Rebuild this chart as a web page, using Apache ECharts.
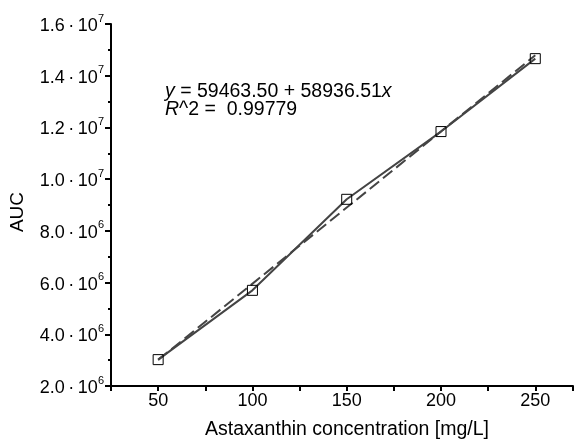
<!DOCTYPE html>
<html>
<head>
<meta charset="utf-8">
<script src="https://cdn.jsdelivr.net/npm/echarts@6/dist/echarts.min.js"></script>
<style>html,body{margin:0;padding:0;background:#fff;}#c{width:576px;height:445px;}</style>
</head>
<body>
<div id="c"></div>
<script>
var concentrations = [50, 100, 150, 200, 250];
var aucValues = [3.02e6, 5.70e6, 9.22e6, 11.84e6, 14.66e6];
var fitX = [50, 250];
var fitY = [3.01e6, 14.79e6];
var xTickLabels = [50, 100, 150, 200, 250];
var equationLine1 = ['y', ' = 59463.50 + 58936.51', 'x'];
var equationLine2 = ['R', '^2 =  0.99779'];

var FONT = '"Liberation Sans", Arial, Helvetica, sans-serif';

function yLabel(v) {
  var e = Math.floor(Math.log10(v) + 1e-9);
  var m = (v / Math.pow(10, e)).toFixed(1);
  return '{a|' + m + '\u2009\u00b7\u200910}{s|' + e + '}';
}

var chart = echarts.init(document.getElementById('c'));
chart.setOption({
  animation: false,
  backgroundColor: '#fff',
  grid: { left: 108, right: 1, top: 24, bottom: 59, containLabel: false },
  xAxis: {
    type: 'value',
    min: 25, max: 270, interval: 25,
    name: 'Astaxanthin concentration [mg/L]',
    nameLocation: 'middle',
    nameGap: 34,
    nameTextStyle: { fontFamily: FONT, fontSize: 19.5, color: '#000', padding: [0, 0, 0, 10] },
    axisLine: { show: true, lineStyle: { color: '#000', width: 2 } },
    axisTick: { show: true, inside: false, length: 5, lineStyle: { color: '#000', width: 2 } },
    axisLabel: {
      fontFamily: FONT, fontSize: 18, color: '#000', margin: 6,
      formatter: function (v) { return xTickLabels.indexOf(v) >= 0 ? String(v) : ''; }
    },
    splitLine: { show: false }
  },
  yAxis: {
    type: 'value',
    min: 2e6, max: 1.6e7, interval: 2e6,
    name: 'AUC',
    nameLocation: 'middle',
    nameGap: 84,
    nameRotate: 90,
    nameTextStyle: { fontFamily: FONT, fontSize: 19, color: '#000', padding: [0, 14, 0, 0] },
    axisLine: { show: true, lineStyle: { color: '#000', width: 2 } },
    axisTick: { show: true, length: 6, lineStyle: { color: '#000', width: 2 } },
    minorTick: { show: true, splitNumber: 2, length: 3, lineStyle: { color: '#000', width: 2 } },
    axisLabel: {
      margin: 7,
      formatter: yLabel,
      rich: {
        a: { fontFamily: FONT, fontSize: 18, color: '#000', lineHeight: 22, verticalAlign: 'bottom' },
        s: { fontFamily: FONT, fontSize: 11, color: '#000', lineHeight: 22, verticalAlign: 'top', padding: [0, 0, 10, 0] }
      }
    },
    splitLine: { show: false }
  },
  graphic: [
    {
      type: 'text', left: 165, top: 82,
      style: {
        text: '{i|' + equationLine1[0] + '}{n|' + equationLine1[1] + '}{i|' + equationLine1[2] + '}\n{i|' + equationLine2[0] + '}{n|' + equationLine2[1] + '}',
        rich: {
          i: { fontFamily: FONT, fontSize: 19.5, fontStyle: 'italic', fill: '#000', lineHeight: 18 },
          n: { fontFamily: FONT, fontSize: 19.5, fill: '#000', lineHeight: 18 }
        }
      }
    }
  ],
  series: [
    {
      type: 'line',
      data: fitX.map(function (x, i) { return [x, fitY[i]]; }),
      showSymbol: false,
      lineStyle: { color: '#444', width: 2, type: [12, 5] },
      z: 2
    },
    {
      type: 'line',
      data: concentrations.map(function (x, i) { return [x, aucValues[i]]; }),
      symbol: 'rect',
      symbolSize: 10,
      lineStyle: { color: '#444', width: 2 },
      itemStyle: { color: 'rgba(255,255,255,0)', borderColor: '#000', borderWidth: 1 },
      z: 3
    }
  ]
});
</script>
</body>
</html>
